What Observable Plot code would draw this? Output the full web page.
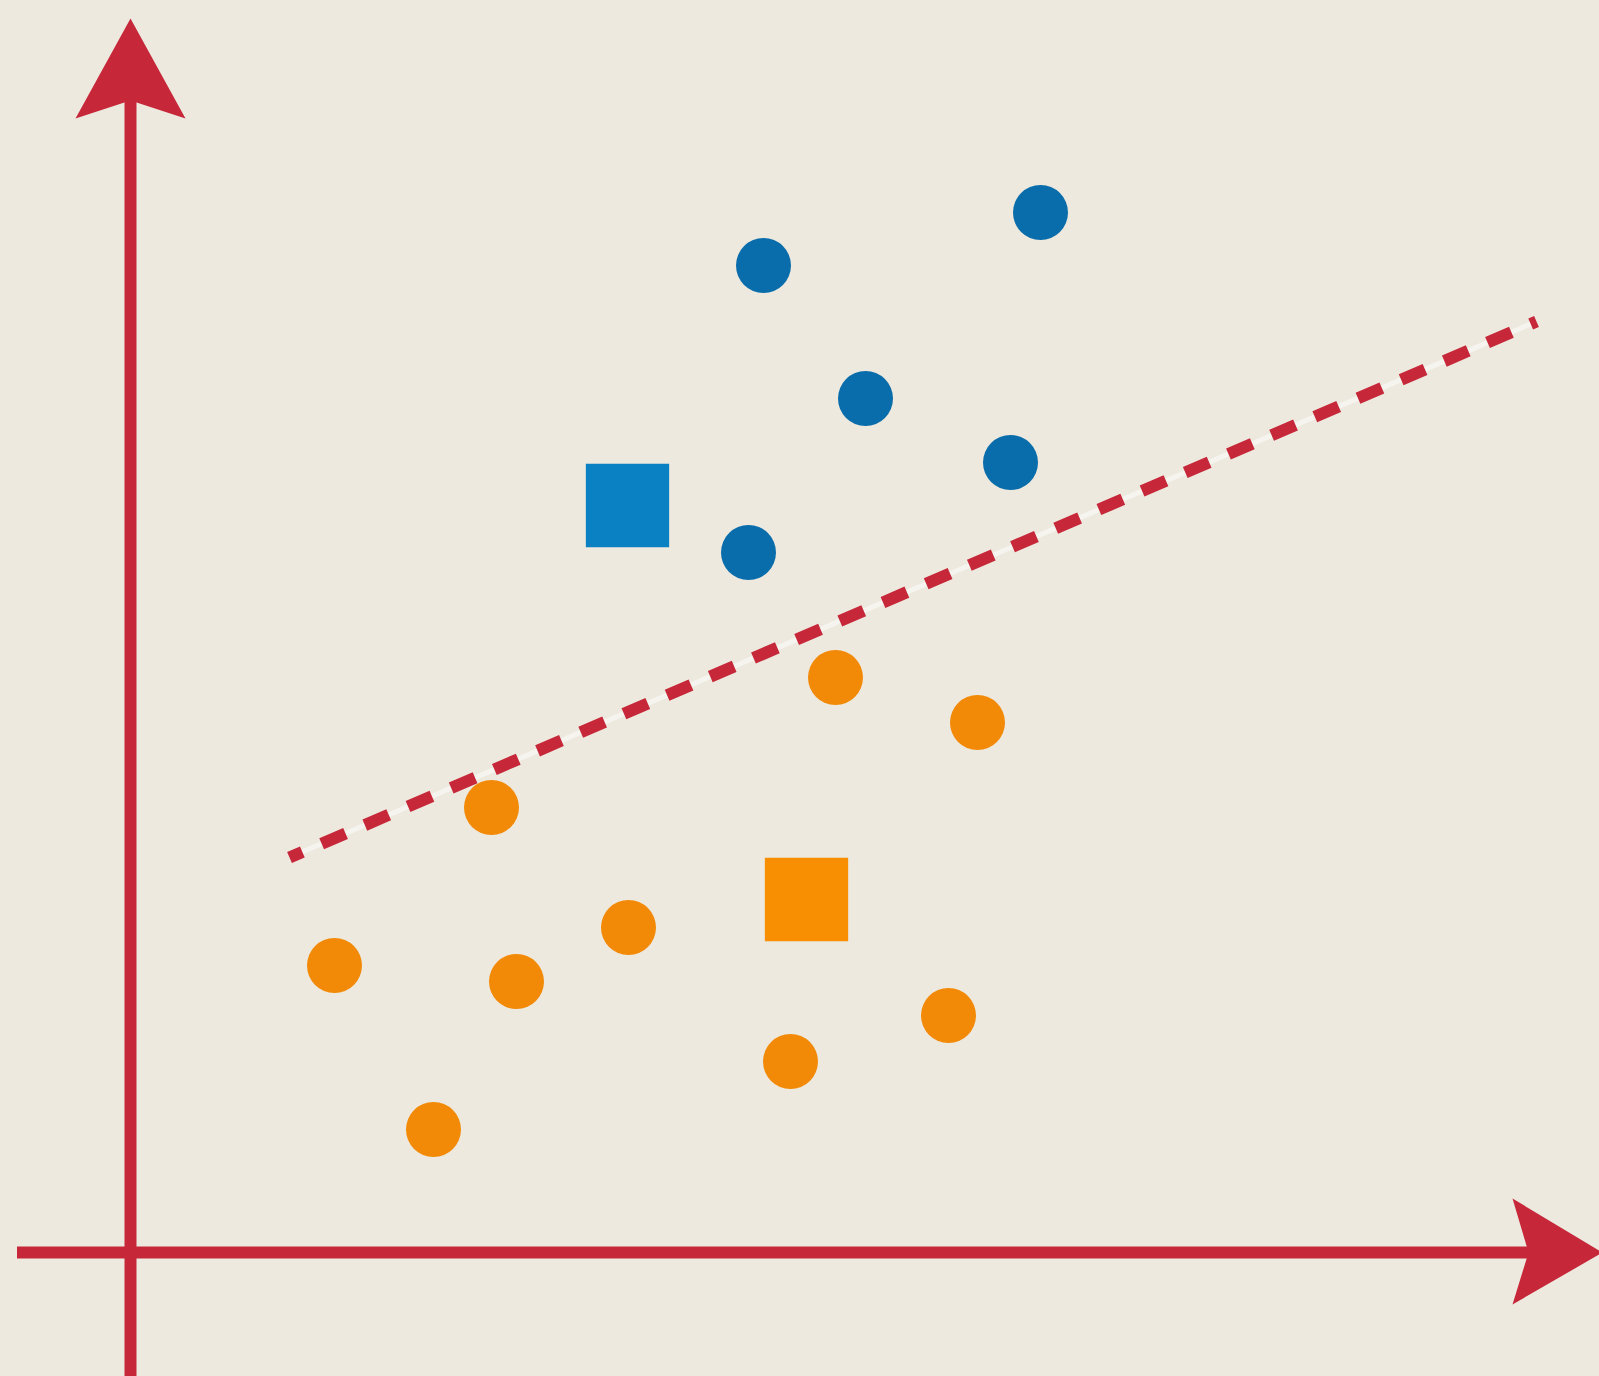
<!DOCTYPE html>
<html>
<head>
<meta charset="utf-8">
<script src="https://cdn.jsdelivr.net/npm/d3@7"></script>
<script src="https://cdn.jsdelivr.net/npm/@observablehq/plot@0.6"></script>
<style>
  html, body { margin: 0; padding: 0; background: #ede9df; }
  #chart svg { display: block; }
</style>
</head>
<body>
<div id="chart"></div>
<script>
// Class A (blue) sample points
const blueX = [63.3, 91.0, 73.5, 88.0, 61.8];
const blueY = [98.7, 104.0, 85.4, 79.0, 70.0];
// Class B (orange) sample points
const orangeX = [70.5, 84.7, 36.1, 49.8, 20.4, 38.6, 81.8, 66.0, 30.3];
const orangeY = [57.5, 53.0, 44.5, 32.5, 28.7, 27.1, 23.7, 19.1, 12.3];
// Class centroids (squares)
const centroidClass = ["A", "B"];
const centroidX = [49.7, 67.6];
const centroidY = [74.7, 35.3];
// Decision boundary endpoints
const boundaryX = [15.9, 140.6];
const boundaryY = [39.5, 93.1];
// Axes: vertical shaft and arrowhead, horizontal shaft and arrowhead
const yAxisX = [0];
const yAxisY = [-12.4, 115.5];
const yHeadX = [0, -5.5, 0, 5.5];
const yHeadY = [123.4, 113.4, 115.2, 113.4];
const xAxisX = [-11.3, 140];
const xAxisY = [0];
const xHeadX = [147.2, 138.2, 139.8, 138.2];
const xHeadY = [0, 5.4, 0, -5.2];

const RED = "#c6283a";
const BLUE = "#0a6dab";
const BLUE_SQ = "#0a81c3";
const ORANGE = "#f28a07";
const ORANGE_SQ = "#f88e02";

const zip = (xs, ys) => xs.map((x, i) => ({x, y: ys[i]}));
const blue = zip(blueX, blueY);
const orange = zip(orangeX, orangeY);
const centroids = centroidClass.map((c, i) => ({c, x: centroidX[i], y: centroidY[i]}));
const boundary = zip(boundaryX, boundaryY);

const chart = Plot.plot({
  width: 1599,
  height: 1376,
  margin: 0,
  style: {background: "#ede9df"},
  x: {domain: [-13.0, 146.9], axis: null},
  y: {domain: [-12.4, 125.2], axis: null},
  color: {domain: ["A", "B"], range: [BLUE_SQ, ORANGE_SQ]},
  marks: [
    Plot.ruleX(yAxisX, {y1: yAxisY[0], y2: yAxisY[1], stroke: RED, strokeWidth: 12}),
    Plot.line(zip(yHeadX, yHeadY), {x: "x", y: "y", fill: RED, stroke: "none", curve: "linear-closed"}),
    Plot.ruleY(xAxisY, {x1: xAxisX[0], x2: xAxisX[1], stroke: RED, strokeWidth: 12}),
    Plot.line(zip(xHeadX, xHeadY), {x: "x", y: "y", fill: RED, stroke: "none", curve: "linear-closed"}),
    Plot.line(boundary, {x: "x", y: "y", stroke: "#ffffff", strokeOpacity: 0.5, strokeWidth: 5, strokeLinecap: "butt"}),
    Plot.line(boundary, {x: "x", y: "y", stroke: RED, strokeWidth: 12, strokeLinecap: "butt", strokeDasharray: "26,21", strokeDashoffset: 12}),
    Plot.dot(centroids, {x: "x", y: "y", symbol: "square", r: 47, fill: "c", stroke: "none"}),
    Plot.dot(blue, {x: "x", y: "y", r: 27.5, fill: BLUE, stroke: "none"}),
    Plot.dot(orange, {x: "x", y: "y", r: 27.5, fill: ORANGE, stroke: "none"})
  ]
});
document.getElementById("chart").appendChild(chart);
</script>
</body>
</html>
